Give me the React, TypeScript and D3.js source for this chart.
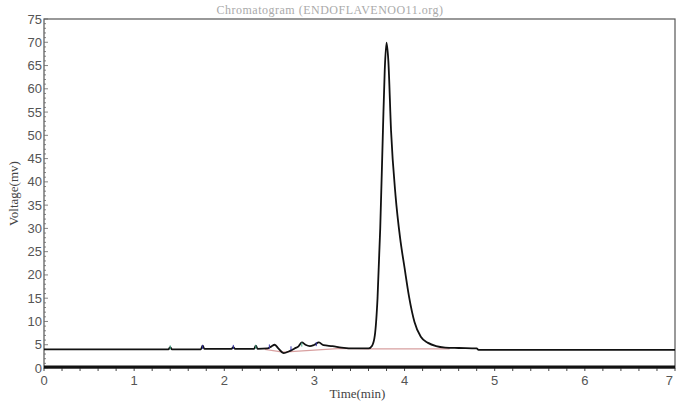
import * as d3 from 'd3';
import React, { useEffect } from 'react';

// chromatogram trace (time in min, voltage in mV)
const traceTime = [
  0, 1.38, 1.4, 1.42, 1.74, 1.76, 1.78, 2.08, 2.1, 2.12, 2.33, 2.35, 2.37, 2.48, 2.52, 2.56,
  2.6, 2.66, 2.72, 2.78, 2.82, 2.86, 2.9, 2.95, 3.0, 3.05, 3.1, 3.2, 3.3, 3.45, 3.6, 3.64,
  3.67, 3.7, 3.73, 3.76, 3.78, 3.8, 3.82, 3.85, 3.9, 3.95, 4.0, 4.05, 4.11, 4.18, 4.26, 4.35,
  4.45, 4.6, 4.8, 4.82, 7,
];
const traceVolt = [
  4.0, 4.0, 4.5, 4.0, 4.0, 4.8, 4.1, 4.1, 4.5, 4.1, 4.1, 4.8, 4.1, 4.2, 4.6, 5.0,
  4.2, 3.2, 3.6, 4.2, 4.6, 5.5, 5.0, 4.7, 5.0, 5.5, 4.9, 4.7, 4.4, 4.2, 4.2, 4.8,
  7.0, 15, 30, 51, 64, 69.9, 66, 51, 37, 28, 21.5, 15.3, 9.9, 6.7, 5.4, 4.7,
  4.4, 4.3, 4.2, 3.9, 3.9,
];

// integration baseline (drawn in pink)
const baseTime = [2.45, 2.65, 3.3, 3.6, 4.5];
const baseVolt = [4.0, 3.4, 4.2, 4.1, 4.1];

// peak markers
const markerTime = [1.4, 1.76, 2.1, 2.35, 2.5, 2.74, 2.86, 3.02];
const markerVolt = [4.0, 4.1, 4.1, 4.1, 4.2, 3.8, 4.6, 4.7];

const yTicks = d3.range(0, 76, 5);
const xTicks = d3.range(0, 8, 1);
const titleText = 'Chromatogram (ENDOFLAVENOO11.org)';

export default function App() {
  const ref = React.useRef<HTMLDivElement>(null);

  useEffect(() => {
    if (!ref.current) return;
    ref.current.innerHTML = '';

    const width = 676;
    const height = 401;
    const margin = { top: 19, right: 1, bottom: 33, left: 44 };
    const w = width - margin.left - margin.right;
    const h = height - margin.top - margin.bottom;

    const x = d3.scaleLinear().domain([0, 7]).range([0, w]);
    const y = d3.scaleLinear().domain([0, 75]).range([h, 0]);

    const root = d3
      .select(ref.current)
      .append('svg')
      .attr('width', width)
      .attr('height', height)
      .style('position', 'absolute')
      .style('left', 0)
      .style('top', 0)
      .style('background', '#fff');

    // title (top half is cut off in the source)
    root
      .append('text')
      .attr('x', 330)
      .attr('y', 14)
      .attr('text-anchor', 'middle')
      .style('font-family', 'Liberation Serif')
      .style('font-size', '12px')
      .style('letter-spacing', '0.5px')
      .style('fill', '#aaa')
      .text(titleText);

    const svg = root.append('g').attr('transform', `translate(${margin.left},${margin.top})`);

    // frame
    svg
      .append('rect')
      .attr('width', w)
      .attr('height', h)
      .attr('fill', 'none')
      .attr('stroke', '#555')
      .attr('stroke-width', 1.2);

    // y ticks
    svg
      .selectAll('.ymin')
      .data(d3.range(0, 76, 1))
      .enter()
      .append('line')
      .attr('x1', 0)
      .attr('x2', d => (d % 5 === 0 ? 4 : 2))
      .attr('y1', d => y(d))
      .attr('y2', d => y(d))
      .attr('stroke', '#666')
      .attr('stroke-width', 0.8);
    svg
      .selectAll('.ylab')
      .data(yTicks)
      .enter()
      .append('text')
      .attr('x', -2)
      .attr('y', d => y(d))
      .attr('dy', '0.35em')
      .attr('text-anchor', 'end')
      .style('font-family', 'Liberation Sans')
      .style('font-size', '13px')
      .style('fill', '#555')
      .text(d => d);

    // x ticks
    svg
      .selectAll('.xmin')
      .data(d3.range(0, 35.5, 1).map(d => d / 5))
      .enter()
      .append('line')
      .attr('x1', d => x(d))
      .attr('x2', d => x(d))
      .attr('y1', h)
      .attr('y2', h + 3)
      .attr('stroke', '#444')
      .attr('stroke-width', 1);
    svg
      .selectAll('.xlab')
      .data(xTicks)
      .enter()
      .append('text')
      .attr('x', d => x(d) - (d === 7 ? 2 : 0))
      .attr('y', h + 17)
      .attr('text-anchor', d => (d === 7 ? 'end' : 'middle'))
      .style('font-family', 'Liberation Sans')
      .style('font-size', '13px')
      .style('fill', '#555')
      .text(d => d);

    // thick zero line
    svg
      .append('line')
      .attr('x1', 0)
      .attr('x2', w)
      .attr('y1', y(0) - 1)
      .attr('y2', y(0) - 1)
      .attr('stroke', '#111')
      .attr('stroke-width', 3);

    // axis titles
    svg
      .append('text')
      .attr('x', x(3.5) - 2)
      .attr('y', h + 30)
      .attr('text-anchor', 'middle')
      .style('font-family', 'Liberation Serif')
      .style('font-size', '13px')
      .style('fill', '#444')
      .text('Time(min)');
    svg
      .append('text')
      .attr('transform', `translate(${-26},${y(37.5)}) rotate(-90)`)
      .attr('text-anchor', 'middle')
      .style('font-family', 'Liberation Serif')
      .style('font-size', '13px')
      .style('fill', '#444')
      .text('Voltage(mv)');

    // integration baseline
    svg
      .append('path')
      .attr('fill', 'none')
      .attr('stroke', '#d8a0a0')
      .attr('stroke-width', 1.2)
      .attr(
        'd',
        d3
          .line<number>()
          .x((d, i) => x(baseTime[i]))
          .y(d => y(d))(baseVolt)
      );

    // trace
    svg
      .append('path')
      .attr('fill', 'none')
      .attr('stroke', '#111')
      .attr('stroke-width', 1.8)
      .attr('stroke-linejoin', 'round')
      .attr(
        'd',
        d3
          .line<number>()
          .curve(d3.curveMonotoneX)
          .x((d, i) => x(traceTime[i]))
          .y(d => y(d))(traceVolt)
      );

    // peak markers
    svg
      .selectAll('.mark')
      .data(markerTime)
      .enter()
      .append('line')
      .attr('x1', d => x(d))
      .attr('x2', d => x(d))
      .attr('y1', (d, i) => y(markerVolt[i]))
      .attr('y2', (d, i) => y(markerVolt[i]) - 4)
      .attr('stroke', (d, i) => (i % 3 === 0 ? '#4a8' : '#33a'))
      .attr('stroke-width', 1);
  }, []);

  return <div ref={ref}></div>;
}
